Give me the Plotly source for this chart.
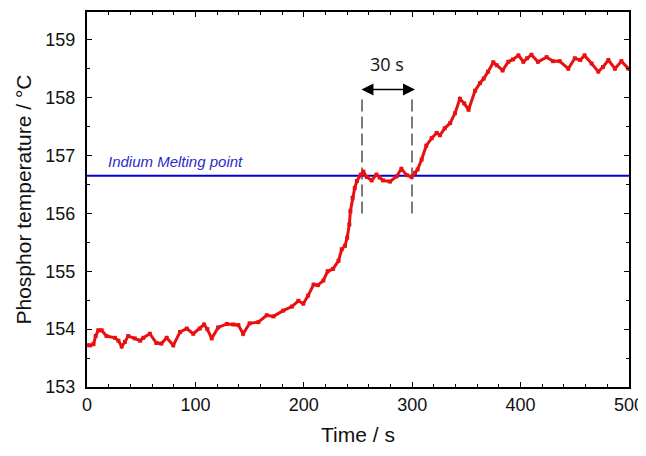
import plotly.graph_objects as go

# Traced data (time in s, phosphor temperature in °C)
time_s = [0, 3, 6, 8, 10.4, 13.5, 18, 25.8, 29, 32, 35, 38, 44, 49, 52, 58, 64, 68.6, 73.5, 79.6,
          85.8, 92, 98, 104, 108, 111, 115, 121, 129, 135, 139.6, 144, 150, 158, 165.8, 172, 181,
          189, 195, 199.5, 204, 209, 213, 218, 222, 227, 232, 235, 238, 240, 242, 243, 245, 247,
          249, 252.5, 255, 258, 262.6, 267, 270, 273, 279.5, 285.7, 290, 295, 299.5, 302.6, 305,
          308.7, 313, 318, 322.6, 325.6, 330, 335, 339.5, 344, 348, 352, 358, 362.5, 366, 370,
          374.8, 378, 383.4, 388.7, 393, 398, 402.5, 406, 410, 416, 424, 430, 436, 444, 450, 455,
          459, 465.5, 471.7, 476, 481, 487, 493, 499.5]
temp_c = [153.72, 153.72, 153.74, 153.88, 153.98, 153.98, 153.88, 153.85, 153.80, 153.70, 153.78,
          153.88, 153.84, 153.80, 153.85, 153.92, 153.76, 153.75, 153.85, 153.72, 153.95, 154.01,
          153.92, 154.01, 154.08, 154.00, 153.84, 154.03, 154.09, 154.08, 154.07, 153.92, 154.10,
          154.12, 154.24, 154.22, 154.32, 154.39, 154.49, 154.44, 154.58, 154.77, 154.76, 154.84,
          155.00, 155.04, 155.18, 155.38, 155.44, 155.58, 155.81, 156.04, 156.27, 156.44, 156.56,
          156.67, 156.72, 156.63, 156.57, 156.67, 156.62, 156.57, 156.55, 156.64, 156.77, 156.66,
          156.63, 156.70, 156.76, 156.93, 157.17, 157.30, 157.39, 157.35, 157.47, 157.56, 157.73,
          157.98, 157.90, 157.79, 158.12, 158.25, 158.33, 158.45, 158.61, 158.56, 158.47, 158.62,
          158.66, 158.73, 158.62, 158.68, 158.74, 158.62, 158.70, 158.63, 158.63, 158.50, 158.68,
          158.65, 158.73, 158.59, 158.45, 158.53, 158.65, 158.50, 158.63, 158.50]

melting_point = 156.65
melting_label = "Indium Melting point"
plateau_start = 253.7
plateau_end = 299.8
dash_y = [156.0, 157.98]
arrow_y = 158.14
arrow_x = [251.8, 302.6]
span_label = "30 s"

x_ticks = [0, 100, 200, 300, 400, 500]
y_ticks = [153, 154, 155, 156, 157, 158, 159]

fig = go.Figure()

fig.add_trace(go.Scatter(
    x=[0, 500], y=[melting_point, melting_point], mode="lines",
    line=dict(color="#0000dd", width=2), hoverinfo="skip", showlegend=False))

for xv in [plateau_start, plateau_end]:
    fig.add_trace(go.Scatter(
        x=[xv, xv], y=dash_y, mode="lines",
        line=dict(color="#444444", width=1.4, dash="12px,5px"), showlegend=False))

fig.add_trace(go.Scatter(
    x=time_s, y=temp_c, mode="lines+markers",
    line=dict(color="#e81010", width=3),
    marker=dict(color="#e81010", size=4, symbol="square"),
    showlegend=False))

fig.add_annotation(
    x=arrow_x[1], y=arrow_y, ax=arrow_x[0], ay=arrow_y,
    xref="x", yref="y", axref="x", ayref="y",
    text="", showarrow=True, arrowhead=2, startarrowhead=2,
    arrowside="end+start", arrowsize=1.6, startarrowsize=1.6,
    arrowwidth=1.5, arrowcolor="black")

fig.add_annotation(
    x=(arrow_x[0] + arrow_x[1]) / 2, y=158.58, xref="x", yref="y",
    text=span_label, showarrow=False,
    font=dict(family="Open Sans", size=18, color="#111111"))

fig.add_annotation(
    x=17.5, y=156.9, xref="x", yref="y", xanchor="left",
    text="<i>" + melting_label + "</i>", showarrow=False,
    font=dict(family="Liberation Sans", size=15, color="#2a2ac8"))

axis_common = dict(
    showgrid=False, zeroline=False, showline=True, linecolor="black", linewidth=2,
    mirror="ticks", ticks="inside", ticklen=5, tickwidth=1.2, tickcolor="black",
    tickfont=dict(family="Liberation Sans", size=18, color="#111111"),
    title_font=dict(family="Liberation Sans", size=21, color="#111111"),
)

fig.update_xaxes(
    range=[0, 500], tickvals=x_ticks, title_text="Time / s", title_standoff=14,
    ticklabeloverflow="allow",
    minor=dict(ticks="inside", dtick=20, ticklen=3, tickcolor="black", tickwidth=1),
    **axis_common)
fig.update_yaxes(
    range=[153, 159.48], tickvals=y_ticks, title_text="Phosphor temperature / °C",
    title_standoff=8, ticklabelstandoff=6,
    minor=dict(ticks="inside", dtick=0.5, ticklen=3, tickcolor="black", tickwidth=1),
    **axis_common)

fig.update_layout(
    width=638, height=440,
    margin=dict(l=79, r=17, t=2, b=61),
    plot_bgcolor="white", paper_bgcolor="white",
)

fig.write_html("out.html")
